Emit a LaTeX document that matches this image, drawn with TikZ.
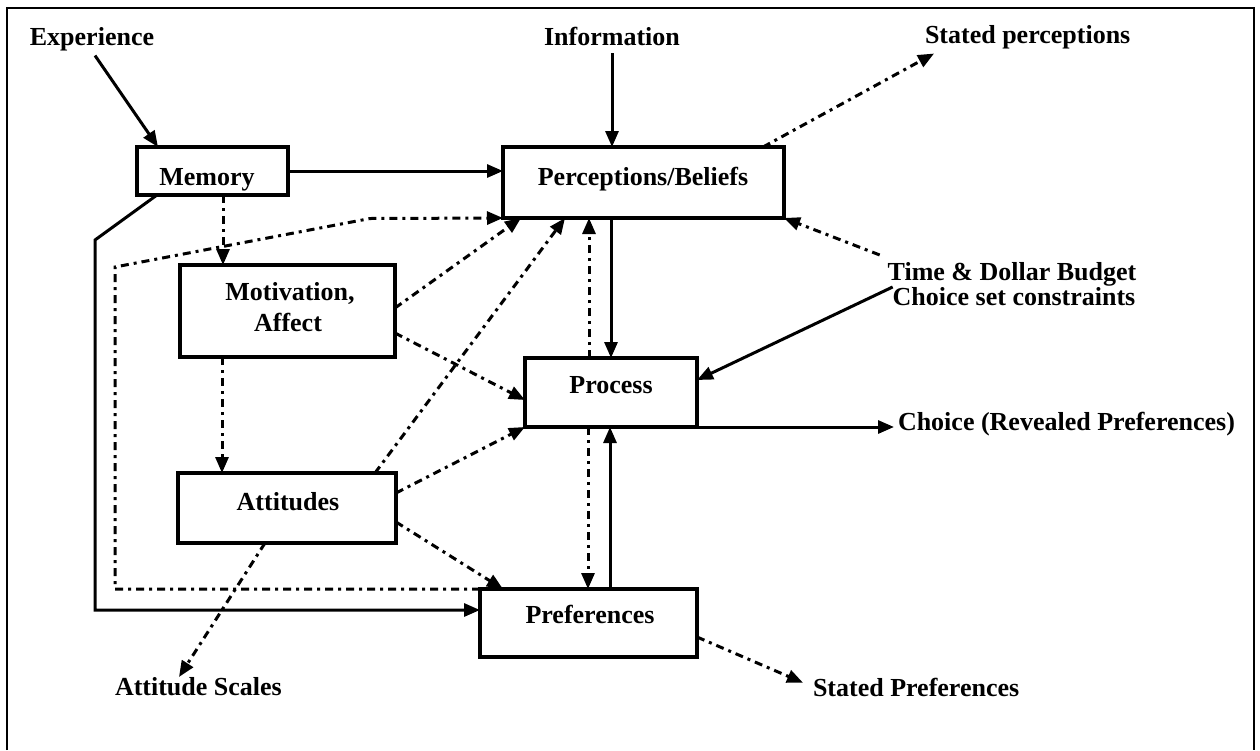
\documentclass[tikz,border=0pt]{standalone}
\usepackage{fontspec}
\setmainfont{Liberation Serif}
\usetikzlibrary{arrows.meta}
\begin{document}
\begin{tikzpicture}[x=1pt,y=-1pt,
  box/.style={draw, line width=3.2pt, rectangle, inner sep=0pt, outer sep=0pt},
  lbl/.style={inner sep=0pt, outer sep=0pt, font=\fontsize{26}{30}\selectfont\bfseries},
  sarr/.style={line width=3pt, -{Triangle[length=16pt,width=13pt]}},
  darr/.style={line width=3pt, dash pattern=on 8pt off 5pt on 3pt off 5pt, -{Triangle[length=16pt,width=13pt]}}]
\useasboundingbox (0,0) rectangle (1260,750);
\fill[white] (0,0) rectangle (1260,750);
\draw[line width=2.2pt] (7,750) -- (7,8) -- (1254,8) -- (1254,750);

% boxes
\node[box, minimum width=151pt, minimum height=48pt] (mem) at (212.5,171) {};
\node[box, minimum width=281pt, minimum height=71pt] (pb) at (643.5,182.5) {};
\node[box, minimum width=215pt, minimum height=92pt] (mot) at (287.5,311) {};
\node[box, minimum width=172pt, minimum height=69pt] (proc) at (611,392.5) {};
\node[box, minimum width=218pt, minimum height=70pt] (att) at (287,508) {};
\node[box, minimum width=217pt, minimum height=68pt] (pref) at (588.5,623) {};

% texts
\node[lbl, anchor=base] (memT) at (207,185) {Memory};
\node[lbl, anchor=base] (pbT) at (643,185) {Perceptions/Beliefs};
\node[lbl, anchor=base] (motT) at (290,300) {Motivation,};
\node[lbl, anchor=base] (affT) at (288,331) {Affect};
\node[lbl, anchor=base] (procT) at (611,393) {Process};
\node[lbl, anchor=base] (attT) at (288,510) {Attitudes};
\node[lbl, anchor=base] (prefT) at (590,623) {Preferences};
\node[lbl, anchor=base] (expT) at (92,45) {Experience};
\node[lbl, anchor=base] (infoT) at (612,45) {Information};
\node[lbl, anchor=base west] (spT) at (925,43) {Stated perceptions};
\node[lbl, anchor=base] (td1) at (1012,280) {Time \& Dollar Budget};
\node[lbl, anchor=base] (td2) at (1014,305) {Choice set constraints};
\node[lbl, anchor=base west, inner xsep=4pt] (chT) at (894,430) {Choice (Revealed Preferences)};
\node[lbl, anchor=base west] (asT) at (115,695) {Attitude Scales};
\node[lbl, anchor=base west] (sprT) at (813,696) {Stated Preferences};

% solid connectors
\draw[sarr] ([xshift=3pt,yshift=-5pt]expT.south) -- (mem.north -| 158,0);
\draw[sarr] (mem.east) -- (mem.east -| pb.west);
\draw[sarr] ([yshift=-8pt]infoT.south) -- (pb.north -| infoT.south);
\draw[sarr] (td2.north west) -- (proc.east |- 0,380);
\draw[sarr] (pb.south -| 611,0) -- (proc.north -| 611,0);
\draw[sarr] (proc.south east) -- (proc.south east -| chT.west);
\draw[sarr] (pref.north -| 610,0) -- (proc.south -| 610,0);
\draw[sarr, line join=miter] (mem.south -| 157,0) -- (95,240) -- (95,610) -- (pref.west |- 0,610);

% dash-dot connectors
\draw[darr] (pb.north -| 763,0) -- ([shift={(9pt,-5pt)}]spT.south west);
\draw[darr] ([shift={(-8pt,7pt)}]td1.north west) -- (pb.south east);
\draw[darr] (proc.north -| 589,0) -- (pb.south -| 589,0);
\draw[darr] (proc.south -| 588,0) -- (pref.north -| 588,0);
\draw[darr] (mem.south -| 223,0) -- (mot.north -| 223,0);
\draw[darr] (mot.south -| 222,0) -- (att.north -| 222,0);
\draw[darr] (mot.east |- 0,308) -- (pb.south -| 521,0);
\draw[darr] (att.north -| 375,0) -- (pb.south -| 565,0);
\draw[darr] (mot.east |- 0,333) -- (proc.west |- 0,400);
\draw[darr] (att.east |- 0,493) -- (proc.south west);
\draw[darr] (att.east |- 0,522) -- (pref.north -| 503,0);
\draw[darr] (att.south -| 265,0) -- (asT.north -| 179,0);
\draw[darr] (pref.east |- 0,637) -- ([shift={(-10pt,-5pt)}]sprT.north west);
\draw[darr] (pref.north west) -- (pref.north west -| 115,0) -- (115,267) -- (370,218.5) -- (pb.south west);
\end{tikzpicture}
\end{document}
